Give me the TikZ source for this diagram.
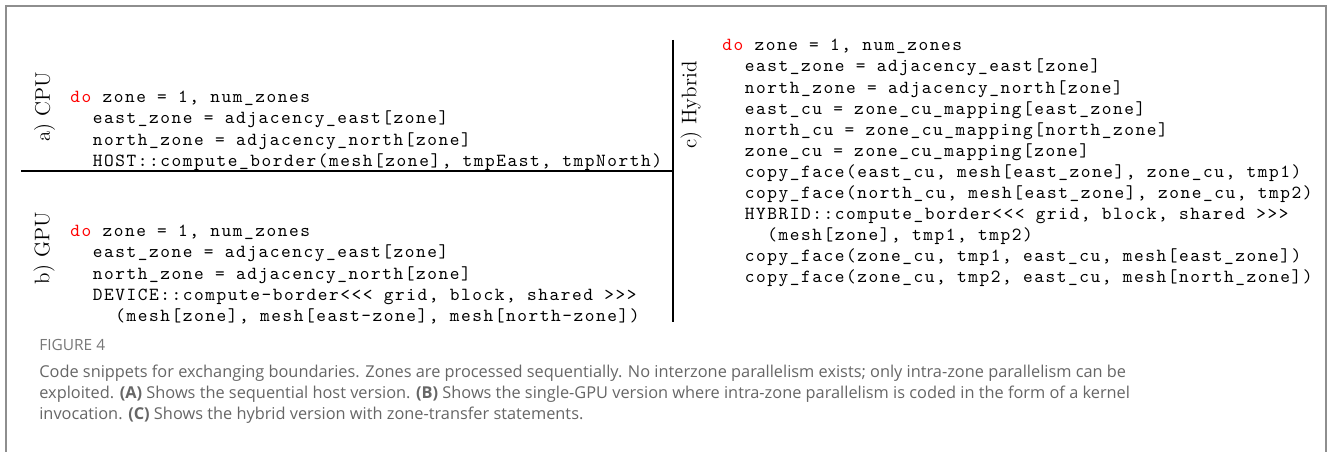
\documentclass[tikz,border=0pt]{standalone}
\usepackage{fontspec}
\setsansfont{Open Sans}
\newfontfamily\codefont[LetterSpace=8.5]{lmmono10-regular.otf}
\usetikzlibrary{positioning}
\definecolor{framegray}{HTML}{8E8E8E}
\definecolor{capgray}{HTML}{666666}
\definecolor{figgray}{HTML}{777777}
\newcommand{\kw}[1]{\textcolor{red}{#1}}
\newcommand{\ind}{\hspace*{12.8pt}}

\begin{document}
\begin{tikzpicture}[
	code/.style={font={\codefont\fontsize{10.5pt}{12pt}\selectfont\spaceskip=6.4pt\relax}, align=left, anchor=north west, inner sep=0pt},
	tag/.style={font={\fontsize{12pt}{14pt}\selectfont}, rotate=90, inner sep=0pt},
	divider/.style={line width=0.6pt},
	borderline/.style={draw=framegray, line width=1.1pt},
	figtag/.style={font={\sffamily\fontsize{8.8pt}{10pt}\selectfont}, text=figgray, anchor=base west, inner sep=0pt},
	captext/.style={font={\sffamily\fontsize{9.3pt}{11.9pt}\selectfont}, text=capgray, align=left, anchor=north west, inner sep=0pt}
	]
	\useasboundingbox (0,0) rectangle (26.6,-9.04);
	\coordinate (fbl) at (0.12,-9.04);
	\coordinate (ftl) at (0.12,-0.12);
	\coordinate (ftr) at (26.52,-0.12);
	\coordinate (fbr) at (26.52,-9.04);
	\draw[borderline] (fbl) -- (ftl) -- (ftr) -- (fbr);

	\node[tag] (cpulbl) at (0.89,-2.14) {a) CPU};
	\node[code] (cpu) at (1.40,-1.82) {\kw{do} zone = 1, num\_zones\\
		\ind east\_zone = adjacency\_east[zone]\\
		\ind north\_zone = adjacency\_north[zone]\\
		\ind HOST::compute\_border(mesh[zone], tmpEast, tmpNorth)};

	\node[tag] (gpulbl) at (0.88,-4.96) {b) GPU};
	\node[code] (gpu) at (1.40,-4.50) {\kw{do} zone = 1, num\_zones\\
		\ind east\_zone = adjacency\_east[zone]\\
		\ind north\_zone = adjacency\_north[zone]\\
		\ind DEVICE::compute-border<<< grid, block, shared >>>\\
		\ind\ind (mesh[zone], mesh[east-zone], mesh[north-zone])};

	\node[tag] (hyblbl) at (13.82,-2.10) {c) Hybrid};
	\node[code] (hyb) at (14.44,-0.78) {\kw{do} zone = 1, num\_zones\\
		\ind east\_zone = adjacency\_east[zone]\\
		\ind north\_zone = adjacency\_north[zone]\\
		\ind east\_cu = zone\_cu\_mapping[east\_zone]\\
		\ind north\_cu = zone\_cu\_mapping[north\_zone]\\
		\ind zone\_cu = zone\_cu\_mapping[zone]\\
		\ind copy\_face(east\_cu, mesh[east\_zone], zone\_cu, tmp1)\\
		\ind copy\_face(north\_cu, mesh[east\_zone], zone\_cu, tmp2)\\
		\ind HYBRID::compute\_border<<< grid, block, shared >>>\\
		\ind\ind (mesh[zone], tmp1, tmp2)\\
		\ind copy\_face(zone\_cu, tmp1, east\_cu, mesh[east\_zone])\\
		\ind copy\_face(zone\_cu, tmp2, east\_cu, mesh[north\_zone])};

	\coordinate (hl) at (0.42,-3.42);
	\coordinate (hr) at (13.46,-3.42);
	\coordinate (vt) at (13.46,-0.80);
	\coordinate (vb) at (13.46,-6.44);
	\draw[divider] (hl) -- (hr);
	\draw[divider] (vt) -- (vb);

	\node[figtag] (fig) at (0.78,-7.02) {FIGURE 4};
	\node[captext] (cap) at (0.78,-7.29) {Code snippets for exchanging boundaries. Zones are processed sequentially. No interzone parallelism exists; only intra-zone parallelism can be\\
		exploited. \textbf{(A)} Shows the sequential host version. \textbf{(B)} Shows the single-GPU version where intra-zone parallelism is coded in the form of a kernel\\
		invocation. \textbf{(C)} Shows the hybrid version with zone-transfer statements.};
\end{tikzpicture}
\end{document}
